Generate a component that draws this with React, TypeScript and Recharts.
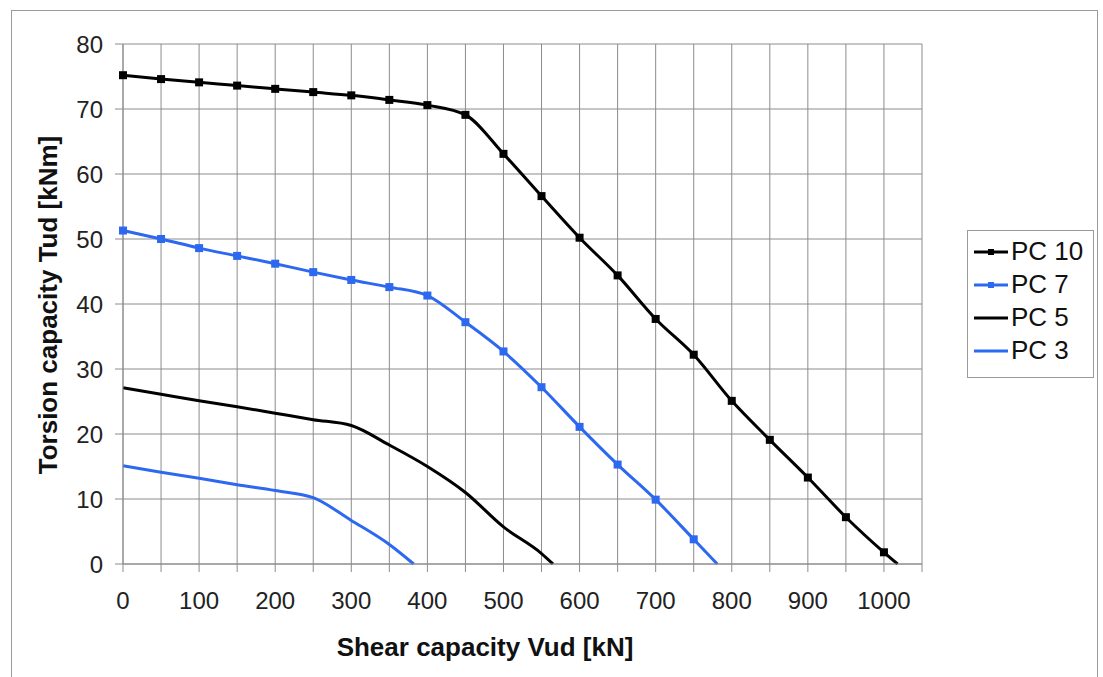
import React from 'react'
import { LineChart, Line, XAxis, YAxis, CartesianGrid } from 'recharts'

// values (x = shear kN, y = torsion kNm)
const pc10X = [0, 50, 100, 150, 200, 250, 300, 350, 400, 450, 500, 550, 600, 650, 700, 750, 800, 850, 900, 950, 1000, 1018]
const pc10Y = [75.2, 74.6, 74.1, 73.6, 73.1, 72.6, 72.1, 71.4, 70.6, 69.1, 63.1, 56.6, 50.2, 44.4, 37.7, 32.2, 25.1, 19.1, 13.3, 7.2, 1.8, 0]

const pc7X = [0, 50, 100, 150, 200, 250, 300, 350, 400, 450, 500, 550, 600, 650, 700, 750, 781]
const pc7Y = [51.3, 50.0, 48.6, 47.4, 46.2, 44.9, 43.7, 42.6, 41.3, 37.2, 32.7, 27.2, 21.1, 15.3, 9.9, 3.8, 0]

const pc5X = [0, 50, 100, 150, 200, 250, 300, 350, 400, 450, 500, 550, 565]
const pc5Y = [27.1, 26.1, 25.1, 24.2, 23.2, 22.2, 21.3, 18.3, 15.0, 11.0, 5.7, 1.6, 0]

const pc3X = [0, 50, 100, 150, 200, 250, 300, 350, 382]
const pc3Y = [15.1, 14.1, 13.2, 12.2, 11.3, 10.2, 6.7, 3.0, 0]

const xTicks = [0, 50, 100, 150, 200, 250, 300, 350, 400, 450, 500, 550, 600, 650, 700, 750, 800, 850, 900, 950, 1000, 1050]
const yTicks = [0, 10, 20, 30, 40, 50, 60, 70, 80]

const BLACK = '#000000'
const BLUE = '#2d68f0'
const GRID = '#8c8c8c'
const FONT = '"Liberation Sans", Arial, sans-serif'

const toPoints = (xs: number[], ys: number[]) => xs.map((x, i) => ({ x, y: ys[i] }))

const series = [
  { name: 'PC 10', data: toPoints(pc10X, pc10Y), color: BLACK, marker: true },
  { name: 'PC 7', data: toPoints(pc7X, pc7Y), color: BLUE, marker: true },
  { name: 'PC 5', data: toPoints(pc5X, pc5Y), color: BLACK, marker: false },
  { name: 'PC 3', data: toPoints(pc3X, pc3Y), color: BLUE, marker: false },
]

// small square marker, only on the 50 kN steps
const squareDot = (color: string) => (props: any) => {
  const { cx, cy, payload, index } = props
  if (payload.x % 50 !== 0) return <g key={`d-${index}`} />
  return <rect key={`d-${index}`} x={cx - 4} y={cy - 4} width={8} height={8} fill={color} />
}

const LegendBox = () => (
  <div
    style={{
      position: 'absolute',
      left: 967,
      top: 230,
      width: 127,
      height: 148,
      boxSizing: 'border-box',
      border: '1px solid #9a9a9a',
      background: '#fff',
      padding: '4px 0 0 5px',
      fontFamily: FONT,
      fontSize: 26,
      color: '#111',
    }}
  >
    {series.map((s) => (
      <div key={s.name} style={{ display: 'flex', alignItems: 'center', height: 33 }}>
        <svg width={36} height={12} style={{ marginRight: 2 }}>
          <line x1={1} y1={6} x2={35} y2={6} stroke={s.color} strokeWidth={3} />
          {s.marker && <rect x={15} y={3} width={6} height={6} fill={s.color} />}
        </svg>
        <span>{s.name}</span>
      </div>
    ))}
  </div>
)

export default function App() {
  return (
    <div style={{ position: 'absolute', left: 0, top: 0, width: 1103, height: 677, background: '#fff', overflow: 'hidden' }}>
      <div
        style={{
          position: 'absolute',
          left: 11,
          top: 10,
          width: 1087,
          height: 700,
          border: '1px solid #9a9a9a',
          boxSizing: 'border-box',
        }}
      />
      <div style={{ position: 'absolute', left: 0, top: 0 }}>
        <LineChart width={1103} height={677} margin={{ top: 44, right: 181, bottom: 0, left: 0 }}>
          <CartesianGrid stroke={GRID} strokeWidth={1} />
          <XAxis
            type="number"
            dataKey="x"
            domain={[0, 1050]}
            ticks={xTicks}
            interval={0}
            height={113}
            tickFormatter={(v: number) => (v % 100 === 0 && v <= 1000 ? String(v) : '')}
            stroke={GRID}
            tickSize={8}
            tickMargin={20}
            tick={{ fill: '#222', fontSize: 24, fontFamily: FONT }}
            label={() => (
              <text x={485} y={656} textAnchor="middle" fontFamily={FONT} fontWeight="bold" fontSize={26} fill="#111">
                Shear capacity Vud [kN]
              </text>
            )}
          />
          <YAxis
            type="number"
            domain={[0, 80]}
            ticks={yTicks}
            interval={0}
            width={123}
            stroke={GRID}
            tickSize={8}
            tickMargin={12}
            tick={{ fill: '#222', fontSize: 24, fontFamily: FONT }}
            label={() => (
              <text
                x={57}
                y={305}
                transform="rotate(-90 57 305)"
                textAnchor="middle"
                fontFamily={FONT}
                fontWeight="bold"
                fontSize={26}
                fill="#111"
              >
                Torsion capacity Tud [kNm]
              </text>
            )}
          />
          {series.map((s) => (
            <Line
              key={s.name}
              name={s.name}
              data={s.data}
              dataKey="y"
              type="monotone"
              stroke={s.color}
              strokeWidth={3}
              dot={s.marker ? squareDot(s.color) : false}
              activeDot={false}
              isAnimationActive={false}
            />
          ))}
        </LineChart>
      </div>
      <LegendBox />
    </div>
  )
}
